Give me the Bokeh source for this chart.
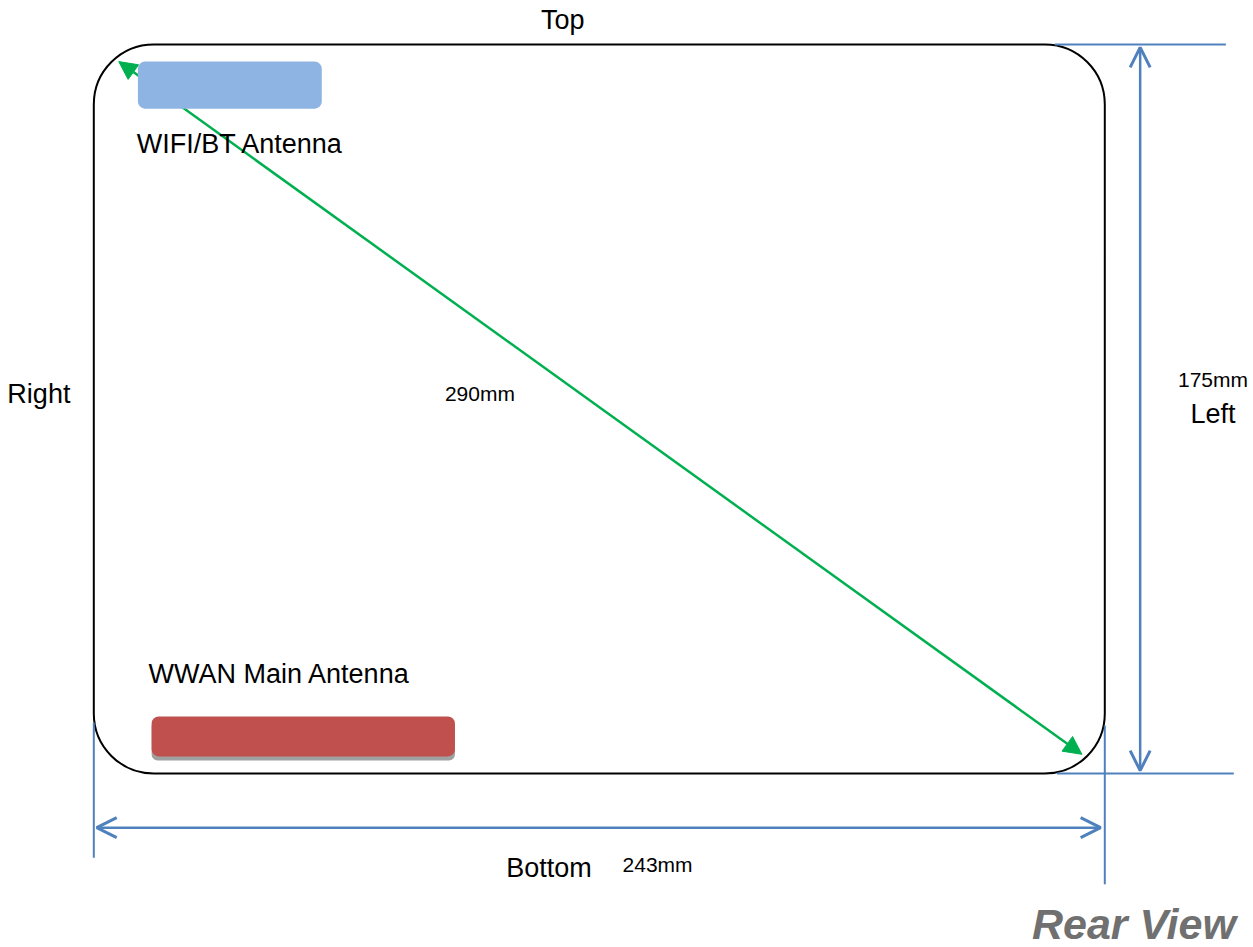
from bokeh.plotting import figure
from bokeh.models import Arrow, OpenHead, NormalHead, Range1d
from bokeh.core.properties import value
from bokeh.embed import file_html
from bokeh.resources import INLINE

# All geometry in millimetres of the device (243 x 175 mm, 290 mm diagonal)
device_width = 243
device_height = 175

antenna_names = ["WIFI/BT", "WWAN Main"]
antenna_left = [10.6, 13.9]
antenna_right = [54.8, 86.8]
antenna_top = [170.9, 13.7]
antenna_bottom = [159.6, 4.1]
antenna_colors = ["#8EB4E3", "#C0504D"]

shadow_left = [13.9]
shadow_right = [86.8]
shadow_top = [12.7]
shadow_bottom = [3.1]

guide_x0 = [231.0, 231.5, 0.0, 243.0]
guide_x1 = [272.1, 274.0, 0.0, 243.0]
guide_y0 = [175.0, 0.0, 12.2, 11.5]
guide_y1 = [175.0, 0.0, -20.2, -26.6]

large_labels = ["Top", "Right", "Left", "Bottom", "WIFI/BT Antenna", "WWAN Main Antenna"]
large_x = [112.7, -13.2, 269.0, 109.4, 35.2, 44.6]
large_y = [180.8, 91.0, 86.2, -22.8, 151.0, 23.8]

small_labels = ["243mm", "175mm", "290mm"]
small_x = [135.5, 269.0, 92.8]
small_y = [-21.8, 94.6, 91.2]

title_label = ["Rear View"]
title_x = [250.0]
title_y = [-36.2]

sx = 1011 / device_width
sy = 729 / device_height

p = figure(width=1253, height=947, output_backend="svg", toolbar_location=None,
           x_range=Range1d(-93.3 / sx, 1159.7 / sx), y_range=Range1d(-174 / sy, 773 / sy),
           min_border=0)
p.axis.visible = False
p.grid.visible = False
p.outline_line_color = None
p.background_fill_color = "white"

BLUE = "#4F81BD"
GREEN = "#00B050"

# diagonal sits beneath the antennas and text
p.add_layout(Arrow(end=NormalHead(size=18, fill_color=GREEN, line_color=GREEN),
                   start=NormalHead(size=18, fill_color=GREEN, line_color=GREEN),
                   x_start=237.5, y_start=4.6, x_end=6.0, y_end=170.9,
                   line_color=GREEN, line_width=2.5, level="underlay"))

p.quad(left=[0], right=[device_width], top=[device_height], bottom=[0],
       fill_color=None, line_color="black", line_width=2, border_radius=60)

p.quad(left=shadow_left, right=shadow_right, top=shadow_top, bottom=shadow_bottom,
       fill_color="#A0A0A0", line_color=None, border_radius=6)
p.quad(left=antenna_left, right=antenna_right, top=antenna_top, bottom=antenna_bottom,
       fill_color=antenna_colors, line_color=None, border_radius=7)

p.segment(x0=guide_x0, y0=guide_y0, x1=guide_x1, y1=guide_y1, line_color=BLUE, line_width=2)

p.add_layout(Arrow(start=OpenHead(size=20, line_color=BLUE, line_width=3),
                   end=OpenHead(size=20, line_color=BLUE, line_width=3),
                   x_start=251.5, y_start=0.7, x_end=251.5, y_end=174.3,
                   line_color=BLUE, line_width=2.5))
p.add_layout(Arrow(start=OpenHead(size=20, line_color=BLUE, line_width=3),
                   end=OpenHead(size=20, line_color=BLUE, line_width=3),
                   x_start=0.7, y_start=-13, x_end=242.0, y_end=-13,
                   line_color=BLUE, line_width=2.5))

FONT = value("Liberation Sans")
p.text(x=large_x, y=large_y, text=large_labels, text_font=FONT, text_font_size="27px",
       text_align="center", text_baseline="middle", text_color="black")
p.text(x=small_x, y=small_y, text=small_labels, text_font=FONT, text_font_size="21px",
       text_align="center", text_baseline="middle", text_color="black")
p.text(x=title_x, y=title_y, text=title_label, text_font=FONT, text_font_size="43px",
       text_font_style="bold italic", text_align="center", text_baseline="middle",
       text_color="#707070")

open("out.html", "w").write(file_html(p, INLINE))
